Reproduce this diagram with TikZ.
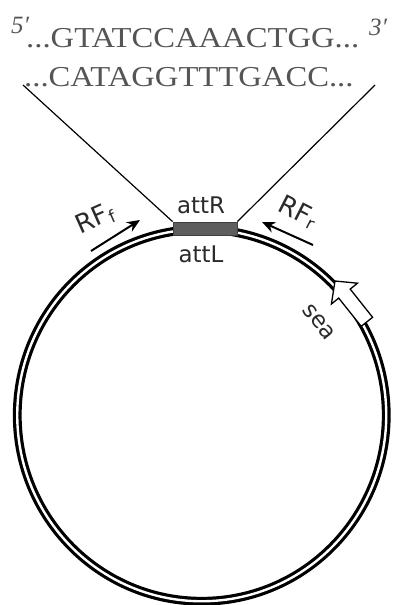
\documentclass[tikz,border=0pt]{standalone}
\usepackage{fontspec}
\setmainfont{Liberation Serif}
\newfontfamily\labfont{DejaVu Sans}
\usetikzlibrary{arrows.meta}
\definecolor{seqgray}{HTML}{555555}
\definecolor{bargray}{HTML}{5E5E5E}
\definecolor{labink}{HTML}{2A2A2A}
\begin{document}
\begin{tikzpicture}[x=1bp,y=-1bp,
  seq/.style={inner sep=0pt, text=seqgray, font=\fontsize{29}{29}\selectfont, anchor=base west, xscale=1.13},
  prime/.style={inner sep=0pt, text=seqgray, font=\fontsize{25}{25}\selectfont\itshape, anchor=base west},
  lab/.style={inner sep=0pt, text=labink, font=\labfont\fontsize{23}{23}\selectfont},
  rflab/.style={inner sep=0pt, text=labink, font=\labfont\fontsize{26}{26}\selectfont},
  plasmid/.style={line width=3.2bp, double=white, double distance=2.4bp, draw=black},
  rfarrow/.style={line width=2bp, -{Stealth[length=13bp,width=11bp]}},
  zoomline/.style={line width=1.2bp, draw=black},
  atbar/.style={draw=black!75, fill=bargray, line width=0.8bp, minimum width=64bp, minimum height=13bp, inner sep=0pt},
  seaarrow/.style={draw=black, fill=white, line width=1.3bp, line join=miter}
]
\useasboundingbox (0,0) rectangle (404,605);

% plasmid circle
\draw[plasmid] (201.75,415.25) ellipse [x radius=184.5bp, y radius=186bp];

% sequence text
\node[prime] (p5) at (11,34) {5′};
\node[prime] (p3) at (369,36) {3′};
\node[seq] (top) at (26,48) {...GTATCCAAACTGG...};
\node[seq] (bot) at (24,87) {...CATAGGTTTGACC...};

% att site bar
\node[atbar] (bar) at (205,228.5) {};
\coordinate (tl) at (23,85);
\coordinate (tr) at (375,85);
\draw[zoomline] (bar.north west) -- (tl);
\draw[zoomline] (bar.north east) -- (tr);

\node[lab] (attR) at (201,205) {attR};
\node[lab] (attL) at (201,254) {attL};

% primers
\coordinate (lft) at (91,251);
\coordinate (lfh) at (140,220);
\draw[rfarrow] (lft) -- (lfh);
\coordinate (rtt) at (313,245);
\coordinate (rth) at (262,222);
\draw[rfarrow] (rtt) -- (rth);
\node[rflab, rotate=24] (rff) at (95,219) {RF\raisebox{-3bp}{\fontsize{17}{17}\selectfont f}};
\node[rflab, rotate=-27] (rfr) at (298,212) {RF\raisebox{-3bp}{\fontsize{17}{17}\selectfont r}};

% sea gene arrow
\draw[seaarrow] (335,281) -- (357.5,283.2) -- (350.2,289.1) -- (372.6,317.3)
  -- (361.2,326.3) -- (338.7,298.1) -- (331.4,304) -- cycle;
\node[lab, rotate=-52] (sea) at (319,322) {sea};
\end{tikzpicture}
\end{document}
